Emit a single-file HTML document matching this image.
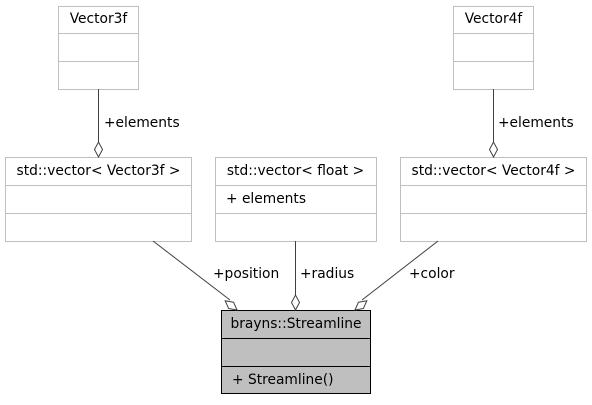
<!DOCTYPE html>
<html><head><style>body{margin:0;background:#fff}</style></head><body>
<svg width="592" height="400" xmlns="http://www.w3.org/2000/svg" font-family="DejaVu Sans, Liberation Sans, sans-serif" font-size="13.8">
<g fill="#fff" stroke="#bfbfbf" stroke-width="1">
<rect x="58.5" y="6.5" width="80" height="83"/><line x1="58" y1="33.5" x2="139" y2="33.5"/><line x1="58" y1="61.5" x2="139" y2="61.5"/>
<rect x="453.5" y="6.5" width="80" height="83"/><line x1="453" y1="33.5" x2="534" y2="33.5"/><line x1="453" y1="61.5" x2="534" y2="61.5"/>
<rect x="5.5" y="157.5" width="186" height="84"/><line x1="5" y1="185.5" x2="192" y2="185.5"/><line x1="5" y1="213.5" x2="192" y2="213.5"/>
<rect x="215.5" y="157.5" width="161" height="84"/><line x1="215" y1="185.5" x2="377" y2="185.5"/><line x1="215" y1="213.5" x2="377" y2="213.5"/>
<rect x="400.5" y="157.5" width="186" height="84"/><line x1="400" y1="185.5" x2="587" y2="185.5"/><line x1="400" y1="213.5" x2="587" y2="213.5"/>
</g>
<g fill="#bfbfbf" stroke="#000" stroke-width="1">
<rect x="221.5" y="310.5" width="149" height="83"/><line x1="221" y1="338.5" x2="371" y2="338.5"/><line x1="221" y1="366.5" x2="371" y2="366.5"/>
</g>
<g stroke="#404040" stroke-width="1" fill="#fff">
<line x1="98.5" y1="89" x2="98.5" y2="142"/>
<polygon points="98.5,157 94.5,149.5 98.5,142 102.5,149.5"/>
<line x1="493.5" y1="89" x2="493.5" y2="142"/>
<polygon points="493.5,157 489.5,149.5 493.5,142 497.5,149.5"/>
<line x1="295.5" y1="241" x2="295.5" y2="295"/>
<polygon points="295.5,310 291.5,302.5 295.5,295 299.5,302.5"/>
<line x1="153" y1="241" x2="230" y2="300"/>
<polygon points="0,0 -4,-7.5 0,-15 4,-7.5" transform="translate(237,310) rotate(-52)"/>
<line x1="438" y1="241" x2="362" y2="300"/>
<polygon points="0,0 -4,-7.5 0,-15 4,-7.5" transform="translate(355,310) rotate(52)"/>
</g>
<g fill="#000">
<text x="98.5" y="23" text-anchor="middle">Vector3f</text>
<text x="493.5" y="23" text-anchor="middle">Vector4f</text>
<text x="98.5" y="175" text-anchor="middle">std::vector&lt; Vector3f &gt;</text>
<text x="295.5" y="175" text-anchor="middle">std::vector&lt; float &gt;</text>
<text x="226" y="203">+ elements</text>
<text x="493.5" y="175" text-anchor="middle">std::vector&lt; Vector4f &gt;</text>
<text x="296" y="328" text-anchor="middle">brayns::Streamline</text>
<text x="232" y="384">+ Streamline()</text>
<text x="104" y="127">+elements</text>
<text x="498" y="127">+elements</text>
<text x="213" y="278">+position</text>
<text x="300" y="278">+radius</text>
<text x="409" y="278">+color</text>
</g>
</svg>
</body></html>
